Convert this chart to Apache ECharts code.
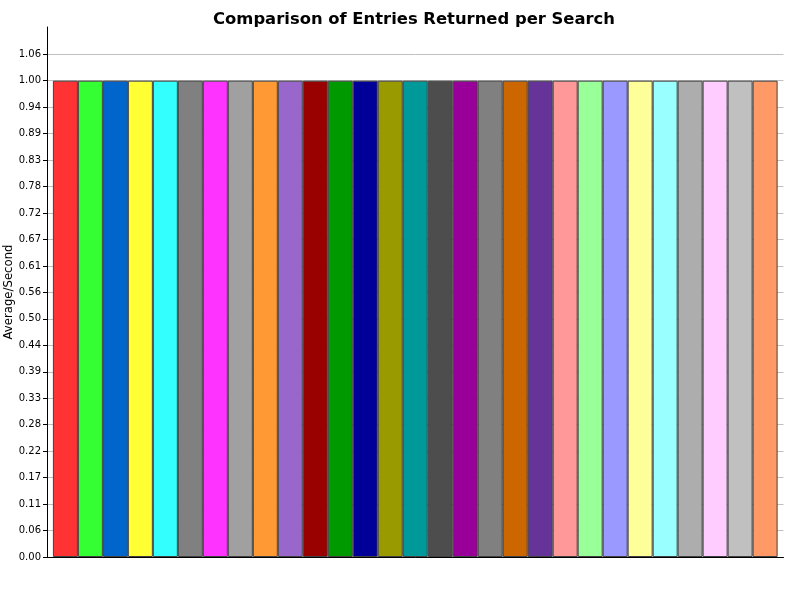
<!DOCTYPE html>
<html>
<head>
<meta charset="utf-8">
<script src="https://cdn.jsdelivr.net/npm/echarts@6/dist/echarts.min.js"></script>
<style>
	html, body { margin: 0; padding: 0; background: #fff; }
	#chart { width: 800px; height: 600px; }
</style>
</head>
<body>
<div id="chart"></div>
<script>
'use strict';
// one category, one bar per series (all runs came out at 1.00)
var categories = [''];
var seriesNames = [];
var seriesValues = [1, 1, 1, 1, 1, 1, 1, 1, 1, 1, 1, 1, 1, 1, 1, 1, 1, 1, 1, 1, 1, 1, 1, 1, 1, 1, 1, 1, 1];
var barColors = [
	'#ff3333', '#33ff33', '#0066cc', '#ffff33', '#33ffff', '#808080', '#ff33ff', '#a0a0a0',
	'#ff9933', '#9966cc', '#990000', '#009900', '#000099', '#999900', '#009999', '#4d4d4d',
	'#990099', '#808080', '#cc6600', '#663399', '#ff9999', '#99ff99', '#9999ff', '#ffff99',
	'#99ffff', '#adadad', '#ffccff', '#c0c0c0', '#ff9966'
];
var yTickStep = 1 / 18;
var yTickCount = 20; // 0.00 .. 1.06
var yMax = 1.1127;
var yTicks = [];

for (var i = 0; i < seriesValues.length; i++) {
	seriesNames.push('Series ' + (i + 1));
}
for (var t = 0; t < yTickCount; t++) {
	yTicks.push(t * yTickStep);
}

function buildSeries() {
	var list = [];
	for (var i = 0; i < seriesValues.length; i++) {
		list.push({
			name: seriesNames[i],
			type: 'bar',
			barGap: '0%',
			barCategoryGap: '1.6%',
			data: [seriesValues[i]],
			itemStyle: {
				color: barColors[i],
				borderColor: '#404040',
				borderWidth: 1
			},
			emphasis: { disabled: true }
		});
	}
	return list;
}

var myChart = echarts.init(document.getElementById('chart'));
var option = {
	animation: false,
	backgroundColor: '#ffffff',
	title: {
		text: 'Comparison of Entries Returned per Search',
		left: 409,
		textAlign: 'center',
		top: 7,
		textStyle: {
			fontFamily: 'DejaVu Sans',
			fontSize: 16.4,
			fontWeight: 'bold',
			color: '#000'
		}
	},
	grid: {
		left: 47,
		right: 16.5,
		top: 27,
		bottom: 43,
		containLabel: false,
		outerBoundsMode: 'none'
	},
	xAxis: {
		type: 'category',
		data: categories,
		axisLine: { show: true, lineStyle: { color: '#000', width: 1 } },
		axisTick: { show: false },
		axisLabel: { show: false },
		splitLine: { show: false }
	},
	yAxis: {
		type: 'value',
		min: 0,
		max: yMax,
		interval: yTickStep,
		name: 'Average/Second',
		nameLocation: 'middle',
		nameGap: 32,
		nameMoveOverlap: false,
		nameTextStyle: {
			fontFamily: 'DejaVu Sans',
			fontSize: 11.7,
			color: '#000'
		},
		axisLine: { show: true, lineStyle: { color: '#000', width: 1 } },
		axisTick: {
			show: true,
			length: 4,
			customValues: yTicks,
			lineStyle: { color: '#000' }
		},
		axisLabel: {
			fontFamily: 'DejaVu Sans',
			fontSize: 10,
			color: '#000',
			margin: 6,
			customValues: yTicks,
			formatter: function(v) { return v.toFixed(2); }
		},
		splitLine: {
			show: true,
			customValues: yTicks,
			lineStyle: { color: '#c0c0c0', width: 1 }
		}
	},
	series: buildSeries()
};
myChart.setOption(option);
</script>
</body>
</html>
